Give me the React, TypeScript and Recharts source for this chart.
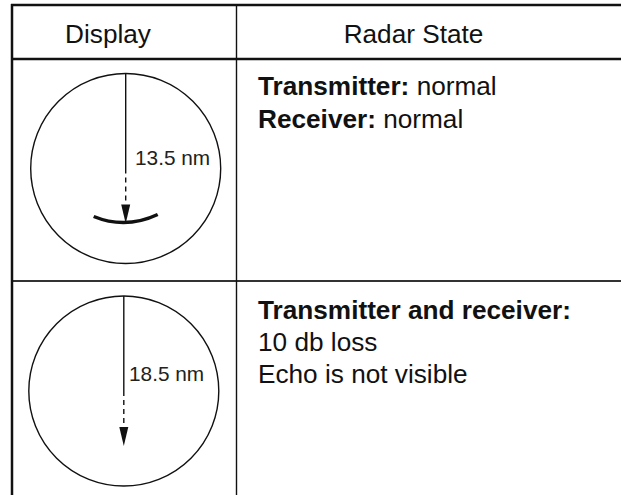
import React from "react";
import {
  ComposedChart,
  XAxis,
  YAxis,
  Scatter,
  ReferenceLine,
} from "recharts";

const W = 621;
const H = 495;

// table frame (data units = pixels)
const frameX = [12];
const dividerX = [236.5];
const headerLineY = [5, 59];
const rowLineY = [281];

const headers = [
  { x: 108, y: 43, text: "Display" },
  { x: 413.5, y: 43, text: "Radar State" },
];

// scope displays
const scopes = [
  { x: 125.7, y: 168.5, echo: true },
  { x: 123.8, y: 391, echo: false },
];
const rangeLabels = [
  { x: 135, y: 165, text: "13.5 nm" },
  { x: 129, y: 380.7, text: "18.5 nm" },
];

// radar state text
const stateLines = [
  { x: 258, y: 95, bold: "Transmitter:", plain: " normal" },
  { x: 258, y: 128, bold: "Receiver:", plain: " normal" },
  { x: 258, y: 319, bold: "Transmitter and receiver:", plain: "" },
  { x: 258, y: 350.7, bold: "", plain: "10 db loss" },
  { x: 258, y: 382.7, bold: "", plain: "Echo is not visible" },
];

const FONT = "'Liberation Sans', Arial, Helvetica, sans-serif";
const R = 95;

function ScopeShape(props: any) {
  const { cx, cy, payload } = props;
  if (cx == null || cy == null) return null;
  const headTop = cy + 36;
  const tip = cy + 55;
  return (
    <g>
      <circle cx={cx} cy={cy} r={R} fill="none" stroke="#111" strokeWidth={1.4} />
      <line x1={cx} y1={cy - R} x2={cx} y2={cy + 5} stroke="#111" strokeWidth={1.4} />
      <line
        x1={cx}
        y1={cy + 9}
        x2={cx}
        y2={headTop}
        stroke="#111"
        strokeWidth={1.4}
        strokeDasharray="5 4"
      />
      <polygon
        points={`${cx - 4.5},${headTop} ${cx + 4.5},${headTop} ${cx},${tip}`}
        fill="#111"
      />
      {payload.echo && (
        <path
          d={`M ${cx - 32} ${cy + 48} Q ${cx} ${cy + 61} ${cx + 32} ${cy + 46}`}
          fill="none"
          stroke="#111"
          strokeWidth={3.5}
        />
      )}
    </g>
  );
}

function LabelShape(props: any) {
  const { cx, cy, payload } = props;
  return (
    <text x={cx} y={cy} fontFamily={FONT} fontSize={20.8} fill="#222">
      {payload.text}
    </text>
  );
}

function HeaderShape(props: any) {
  const { cx, cy, payload } = props;
  return (
    <text x={cx} y={cy} fontFamily={FONT} fontSize={26.2} fill="#111" textAnchor="middle">
      {payload.text}
    </text>
  );
}

function StateShape(props: any) {
  const { cx, cy, payload } = props;
  return (
    <text x={cx} y={cy} fontFamily={FONT} fontSize={26.2} fill="#111">
      {payload.bold && <tspan fontWeight="bold">{payload.bold}</tspan>}
      {payload.plain && <tspan>{payload.plain}</tspan>}
    </text>
  );
}

export default function App() {
  return (
    <div style={{ width: W, height: H, background: "#fff" }}>
      <style>{"body{margin:0;background:#fff}"}</style>
      <ComposedChart width={W} height={H} margin={{ top: 0, right: 0, bottom: 0, left: 0 }}>
        <XAxis type="number" dataKey="x" domain={[0, W]} hide allowDataOverflow />
        <YAxis type="number" dataKey="y" domain={[0, H]} reversed hide allowDataOverflow />

        {headerLineY.map((y) => (
          <ReferenceLine
            key={`h${y}`}
            segment={[{ x: frameX[0] - 1, y }, { x: W, y }]}
            stroke="#111"
            strokeWidth={2.5}
          />
        ))}
        {rowLineY.map((y) => (
          <ReferenceLine
            key={`r${y}`}
            segment={[{ x: frameX[0], y }, { x: W, y }]}
            stroke="#333"
            strokeWidth={2}
          />
        ))}
        {frameX.map((x) => (
          <ReferenceLine
            key={`f${x}`}
            segment={[{ x, y: headerLineY[0] - 1 }, { x, y: H }]}
            stroke="#111"
            strokeWidth={2.5}
          />
        ))}
        {dividerX.map((x) => (
          <ReferenceLine
            key={`d${x}`}
            segment={[{ x, y: headerLineY[0] }, { x, y: H }]}
            stroke="#111"
            strokeWidth={1.4}
          />
        ))}

        <Scatter data={scopes} shape={ScopeShape} isAnimationActive={false} />
        <Scatter data={rangeLabels} shape={LabelShape} isAnimationActive={false} />
        <Scatter data={headers} shape={HeaderShape} isAnimationActive={false} />
        <Scatter data={stateLines} shape={StateShape} isAnimationActive={false} />
      </ComposedChart>
    </div>
  );
}
